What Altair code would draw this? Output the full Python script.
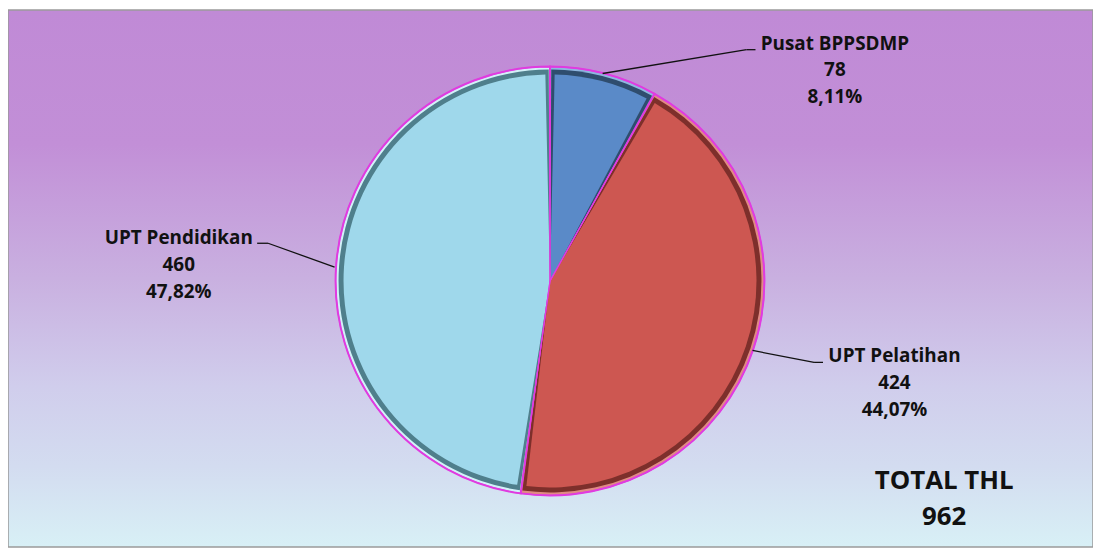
import altair as alt
import pandas as pd

# ---- data ----
categories = ["Pusat BPPSDMP", "UPT Pelatihan", "UPT Pendidikan"]
values = [78, 424, 460]
order_idx = [0, 1, 2]
main_colors = ["#5a8ac8", "#cd5751", "#9fd8eb"]
dark_colors = ["#2f4d6e", "#7d2f2b", "#4f7f8c"]
light_colors = ["#8fb6e0", "#e08a84", "#d2f1f8"]
total_label = "TOTAL THL"

total = sum(values)
pcts = [f"{v / total * 100:.2f}".replace(".", ",") + "%" for v in values]
labels = [f"{c}\n{v}\n{p}" for c, v, p in zip(categories, values, pcts)]

df = pd.DataFrame({
    "cat": categories,
    "val": values,
    "k": order_idx,
    "label": labels,
})

W, H = 1093, 541
CX, CY = 546, 273
R = 216
FONT = "Open Sans"

base = alt.Chart(df)

bg = alt.Chart(alt.Data(values=[{}])).mark_rect(
    color=alt.Gradient(
        gradient="linear",
        stops=[
            alt.GradientStop(color="#c08ad6", offset=0.0),
            alt.GradientStop(color="#c28fd7", offset=0.25),
            alt.GradientStop(color="#c9b0e0", offset=0.5),
            alt.GradientStop(color="#d0cdec", offset=0.7),
            alt.GradientStop(color="#d3dcf0", offset=0.85),
            alt.GradientStop(color="#d8f0f6", offset=1.0),
        ],
        x1=0, x2=0, y1=0, y2=1,
    ),
    stroke="#9a9a9a",
    strokeWidth=1.5,
).encode(x=alt.value(0), x2=alt.value(W), y=alt.value(0), y2=alt.value(H))


def arc_layer(field, colors, radius, pad=0.0, **kw):
    return base.transform_calculate(**{field: "datum.cat"}).mark_arc(
        radius=radius, padAngle=pad, **kw
    ).encode(
        theta=alt.Theta("val:Q", stack=True),
        order=alt.Order("k:Q"),
        color=alt.Color(f"{field}:N", scale=alt.Scale(domain=categories, range=colors), legend=None),
        x=alt.value(CX),
        y=alt.value(CY),
    )


outer = arc_layer("c_light", light_colors, R, stroke="#e03ce0", strokeWidth=2)
middle = arc_layer("c_dark", dark_colors, R - 3, pad=0.012)
inner = arc_layer("c_main", main_colors, R - 8, pad=0.045)
edge = base.mark_arc(radius=R, fillOpacity=0, stroke="#e03ce0", strokeWidth=1.2).encode(
    theta=alt.Theta("val:Q", stack=True),
    order=alt.Order("k:Q"),
    x=alt.value(CX),
    y=alt.value(CY),
)

# leader lines (annotation positions)
def seg(x1, y1, x2, y2):
    return alt.Chart(alt.Data(values=[{}])).mark_rule(color="#111111", strokeWidth=1.3).encode(
        x=alt.value(x1), y=alt.value(y1), x2=alt.value(x2), y2=alt.value(y2)
    )

o = 8
leaders = [
    seg(607 - o, 72 - o, 752 - o, 48 - o), seg(752 - o, 48 - o, 761 - o, 48 - o),
    seg(337 - o, 267 - o, 270 - o, 243 - o), seg(270 - o, 243 - o, 259 - o, 243 - o),
    seg(758 - o, 351 - o, 820 - o, 363 - o), seg(820 - o, 363 - o, 829 - o, 363 - o),
]


def label_layer(cat, x, y):
    return base.transform_filter(alt.datum.cat == cat).mark_text(
        font=FONT, fontSize=19, fontWeight="bold", color="#111111",
        align="center", baseline="alphabetic", lineBreak="\n", lineHeight=27,
    ).encode(text="label:N", x=alt.value(x), y=alt.value(y))


lab = [
    label_layer(categories[0], 841 - o, 48 - o),
    label_layer(categories[2], 180 - o, 244 - o),
    label_layer(categories[1], 901 - o, 363 - o),
]

tot = alt.Chart(alt.Data(values=[{"t": f"{total_label}\n{total}"}])).mark_text(
    font=FONT, fontSize=26, fontWeight="bold", color="#111111",
    align="center", baseline="alphabetic", lineBreak="\n", lineHeight=36,
).encode(text="t:N", x=alt.value(951 - o), y=alt.value(491 - o))

chart = alt.layer(bg, outer, middle, inner, edge, *leaders, *lab, tot).resolve_scale(
    color="independent"
).properties(
    width=W, height=H, padding=0, autosize=alt.AutoSizeParams(type="none")
).configure_view(stroke=None)

chart.save("out.html", embed_options={"renderer": "svg", "actions": False})
